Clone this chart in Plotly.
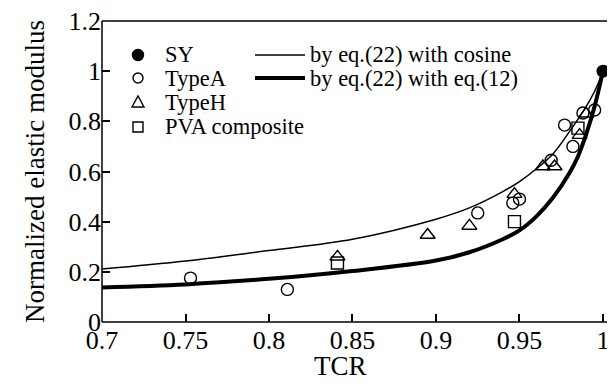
import plotly.graph_objects as go

# Data
sy_x = [1.0]
sy_y = [1.0]

typea_x = [0.753, 0.811, 0.925, 0.946, 0.950, 0.969, 0.977, 0.982, 0.988, 0.995]
typea_y = [0.175, 0.130, 0.435, 0.474, 0.490, 0.645, 0.785, 0.700, 0.833, 0.845]

typeh_x = [0.841, 0.895, 0.920, 0.947, 0.964, 0.971, 0.986, 0.990]
typeh_y = [0.260, 0.347, 0.383, 0.510, 0.620, 0.620, 0.745, 0.830]

pva_x = [0.841, 0.947, 0.985]
pva_y = [0.235, 0.400, 0.773]

cos_x = [0.70, 0.75, 0.80, 0.85, 0.90, 0.92, 0.94, 0.95, 0.96, 0.97, 0.98, 0.99, 0.995, 1.0]
cos_y = [0.211, 0.243, 0.285, 0.330, 0.410, 0.455, 0.520, 0.560, 0.610, 0.670, 0.760, 0.860, 0.920, 1.0]

eq12_x = [0.70, 0.75, 0.80, 0.85, 0.90, 0.92, 0.94, 0.95, 0.96, 0.97, 0.98, 0.985, 0.99, 0.995, 1.0]
eq12_y = [0.138, 0.150, 0.172, 0.203, 0.245, 0.278, 0.330, 0.365, 0.420, 0.495, 0.595, 0.660, 0.750, 0.860, 1.0]

x_ticks = [0.7, 0.75, 0.8, 0.85, 0.9, 0.95, 1.0]
x_tick_labels = ["0.7", "0.75", "0.8", "0.85", "0.9", "0.95", "1"]
y_ticks = [0, 0.2, 0.4, 0.6, 0.8, 1.0, 1.2]
y_tick_labels = ["0", "0.2", "0.4", "0.6", "0.8", "1", "1.2"]

marker_names = ["SY", "TypeA", "TypeH", "PVA composite"]
line_names = ["by eq.(22) with cosine", "by eq.(22) with eq.(12)"]

FONT = "Liberation Serif"
OFF = 8  # default page margin of the html body
W, H = 615 - OFF, 392 - OFF
L, R, T, B = 94, 0, 13, 70
PW, PH = W - L - R, H - T - B


def px_x(p):  # page pixel -> paper
    return (p - OFF - L) / PW


def px_y(p):
    return (H - B - (p - OFF)) / PH


fig = go.Figure()

fig.add_trace(go.Scatter(x=cos_x, y=cos_y, mode="lines", name=line_names[0],
                         line=dict(color="black", width=1.5, shape="spline")))
fig.add_trace(go.Scatter(x=eq12_x, y=eq12_y, mode="lines", name=line_names[1],
                         line=dict(color="black", width=4, shape="spline")))

mk_line = dict(color="black", width=1.4)
fig.add_trace(go.Scatter(x=typea_x, y=typea_y, mode="markers", name="TypeA",
                         marker=dict(symbol="circle-open", size=12, color="black", line=mk_line)))
fig.add_trace(go.Scatter(x=typeh_x, y=typeh_y, mode="markers", name="TypeH",
                         marker=dict(symbol="triangle-up-open", size=13, color="black", line=mk_line)))
fig.add_trace(go.Scatter(x=pva_x, y=pva_y, mode="markers", name="PVA composite",
                         marker=dict(symbol="square-open", size=12, color="black", line=mk_line)))
fig.add_trace(go.Scatter(x=sy_x, y=sy_y, mode="markers", name="SY",
                         marker=dict(symbol="circle", size=13, color="black"), cliponaxis=False))

# Legend keys (two columns) as pixel-sized shapes
row_px = [55, 78, 102, 127]
kx = px_x(138)
key_paths = {
    "SY": dict(type="circle", x0=-5.5, x1=5.5, y0=-5.5, y1=5.5, fillcolor="black"),
    "TypeA": dict(type="circle", x0=-5, x1=5, y0=-5, y1=5),
    "TypeH": dict(type="path", path="M -6,-5 L 6,-5 L 0,6 Z"),
    "PVA composite": dict(type="rect", x0=-5, x1=5, y0=-5, y1=5),
}
for i, nm in enumerate(marker_names):
    spec = dict(key_paths[nm])
    fig.add_shape(xref="paper", yref="paper", xsizemode="pixel", ysizemode="pixel",
                  xanchor=kx, yanchor=px_y(row_px[i]),
                  line=dict(color="black", width=1.4), **spec)
    fig.add_annotation(text=nm, xref="paper", yref="paper", x=px_x(163), y=px_y(row_px[i]),
                       xanchor="left", yanchor="middle", showarrow=False,
                       font=dict(size=22.5, family=FONT, color="black"))
for i, nm in enumerate(line_names):
    fig.add_shape(type="line", xref="paper", yref="paper", x0=px_x(255), x1=px_x(305),
                  y0=px_y(row_px[i]), y1=px_y(row_px[i]),
                  line=dict(color="black", width=1.5 if i == 0 else 4))
    fig.add_annotation(text=nm, xref="paper", yref="paper", x=px_x(308), y=px_y(row_px[i]),
                       xanchor="left", yanchor="middle", showarrow=False,
                       font=dict(size=22.5, family=FONT, color="black"))

# frame: left, bottom and top lines (no right line, as in the reference)
frame = dict(color="black", width=1.5)
fig.add_shape(type="line", xref="paper", yref="paper", x0=0, x1=0, y0=0, y1=1, line=frame)
fig.add_shape(type="line", xref="paper", yref="paper", x0=0, x1=1, y0=0, y1=0, line=frame)
fig.add_shape(type="line", xref="paper", yref="paper", x0=0, x1=1, y0=1, y1=1, line=frame)

fig.update_layout(
    width=W, height=H,
    margin=dict(l=L, r=R, t=T, b=B, autoexpand=False),
    paper_bgcolor="white", plot_bgcolor="white",
    font=dict(family=FONT, size=26, color="black"),
    showlegend=False,
)

fig.update_xaxes(range=[0.7, 1.0072], tickvals=x_ticks, ticktext=x_tick_labels,
                 ticks="inside", ticklen=8, tickwidth=1.5, tickcolor="black",
                 showline=False, showgrid=False, zeroline=False, automargin=False,
                 ticklabeloverflow="allow",
                 tickfont=dict(size=26, family=FONT))
fig.update_yaxes(range=[0, 1.2], tickvals=y_ticks, ticktext=y_tick_labels,
                 ticks="inside", ticklen=8, tickwidth=1.5, tickcolor="black",
                 showline=False, showgrid=False, zeroline=False, automargin=False,
                 ticklabeloverflow="allow",
                 tickfont=dict(size=26, family=FONT),
                 title=dict(text="Normalized elastic modulus", font=dict(size=27, family=FONT),
                            standoff=16))

fig.add_annotation(text="TCR", xref="paper", yref="paper", x=px_x(340), y=px_y(366),
                   xanchor="center", yanchor="middle", showarrow=False,
                   font=dict(size=27, family=FONT))

fig.write_html("out.html")
